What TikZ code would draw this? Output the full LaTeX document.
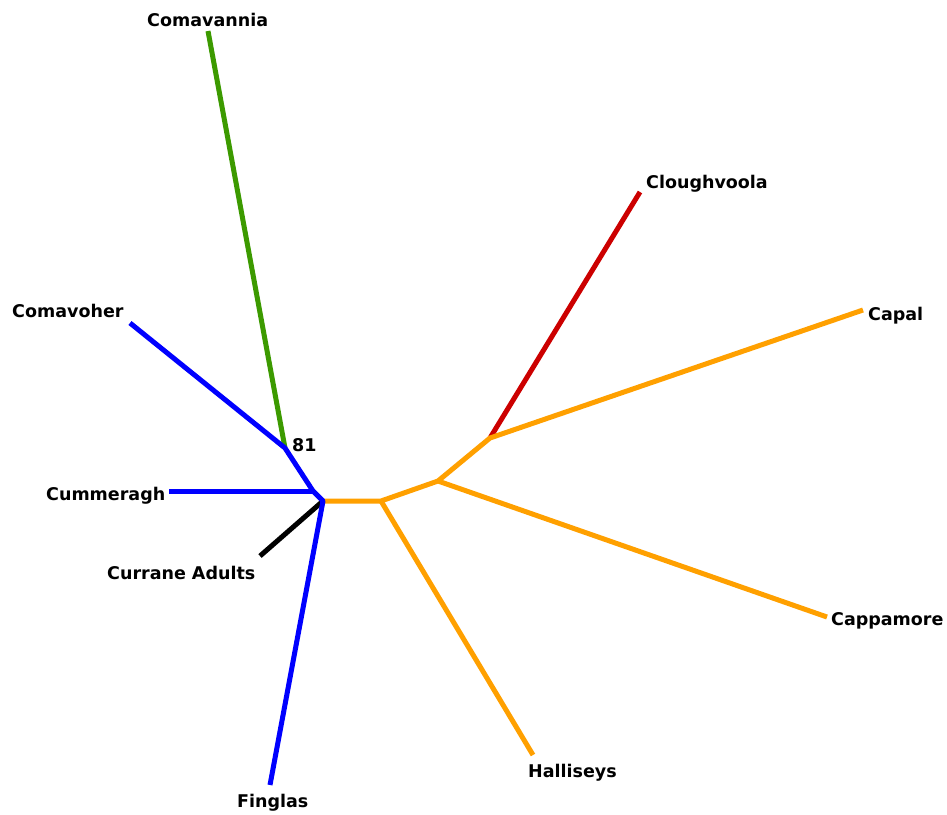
\documentclass[tikz,border=0pt]{standalone}
\usepackage{fontspec}
\setmainfont{DejaVu Sans}
\definecolor{tblue}{RGB}{0,0,255}
\definecolor{torange}{RGB}{255,160,0}
\definecolor{tgreen}{RGB}{60,154,0}
\definecolor{tred}{RGB}{204,0,0}
\begin{document}
\begin{tikzpicture}[x=1pt,y=-1pt,
  br/.style={line width=5pt,line join=round,line cap=butt},
  lab/.style={anchor=base west,inner sep=0pt,font=\fontsize{17.5}{20}\selectfont\bfseries}]
\useasboundingbox (0,0) rectangle (947,814);
% internal points
\coordinate (c) at (323,501);
\coordinate (j81) at (285,448);
\coordinate (jcum) at (313,491);
\coordinate (o1) at (381,501);
\coordinate (o2) at (438,481);
\coordinate (o3) at (490,438);
% leaf ends
\coordinate (eComavannia) at (208,31);
\coordinate (eComavoher) at (130,323);
\coordinate (eCummeragh) at (169,491);
\coordinate (eCurrane) at (260,556);
\coordinate (eFinglas) at (270,785);
\coordinate (eHalliseys) at (533,755);
\coordinate (eCappamore) at (827,617);
\coordinate (eCapal) at (863,310);
\coordinate (eClough) at (640,192);
% branches
\draw[br,tred] (o3) -- (eClough);
\draw[br,torange] (c) -- (o1) -- (o2) -- (o3) -- (eCapal);
\draw[br,torange] (o2) -- (eCappamore);
\draw[br,torange] (o1) -- (eHalliseys);
\draw[br,black] (c) -- (eCurrane);
\draw[br,tgreen] (eComavannia) -- (j81);
\draw[br,tblue] (eComavoher) -- (j81) -- (jcum) -- (c) -- (eFinglas);
\draw[br,tblue] (eCummeragh) -- (jcum);
% labels
\node[lab] (lComavannia) at (147,26) {Comavannia};
\node[lab] (lComavoher) at (12,317) {Comavoher};
\node[lab] (lCummeragh) at (46,500) {Cummeragh};
\node[lab] (lCurrane) at (107,579) {Currane Adults};
\node[lab] (lFinglas) at (237,807) {Finglas};
\node[lab] (lHalliseys) at (528,777) {Halliseys};
\node[lab] (lCappamore) at (831,625) {Cappamore};
\node[lab] (lCapal) at (868,320) {Capal};
\node[lab] (lClough) at (646,188) {Cloughvoola};
\node[lab] (l81) at (292,451) {81};
\end{tikzpicture}
\end{document}
